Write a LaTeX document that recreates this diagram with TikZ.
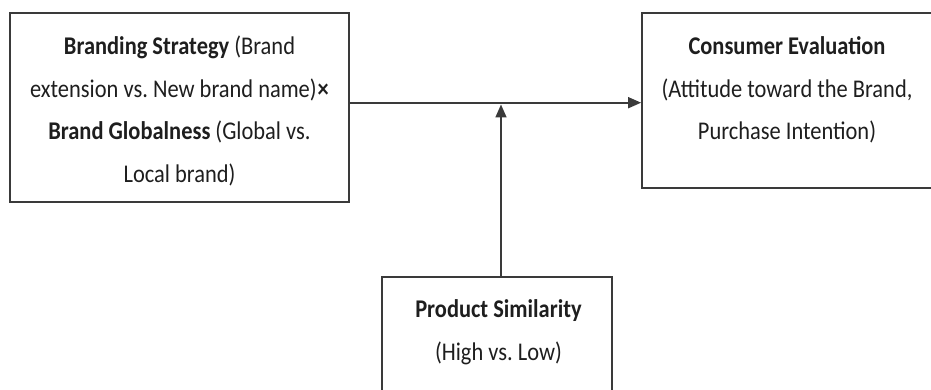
\documentclass[tikz,border=0pt]{standalone}
\usepackage{fontspec}
\setmainfont[FakeStretch=0.88]{Carlito}
\usetikzlibrary{arrows.meta}
\definecolor{ink}{HTML}{1E1E1E}
\definecolor{edge}{HTML}{3A3A3A}
\frenchspacing
\begin{document}
\begin{tikzpicture}[x=1pt,y=-1pt,
  boxst/.style={draw=edge,line width=1.8pt,rectangle,inner sep=0pt},
  txt/.style={text=ink,align=center,font=\fontsize{25.5}{42.5}\selectfont,inner sep=0pt},
  arr/.style={draw=edge,line width=1.7pt,-{Triangle[length=13pt,width=11pt]}}]
\useasboundingbox (0,0) rectangle (931,390);
\node[boxst,minimum width=339pt,minimum height=189pt] (L) at (179.5,107.5) {};
\node[txt] (Lt) at (179.5,111) {\textbf{Branding Strategy} (Brand\\extension vs. New brand name)\kern1pt\textbf{×}\\\textbf{Brand Globalness} (Global vs.\\Local brand)};
\node[boxst,minimum width=290pt,minimum height=175pt] (R) at (787,100.5) {};
\node[txt] (Rt) at (787,90) {\textbf{Consumer Evaluation}\\(Attitude toward the Brand,\\Purchase Intention)};
\node[boxst,minimum width=230pt,minimum height=140pt] (P) at (497,347) {};
\node[txt] (Pt) at (498.5,332) {\textbf{Product Similarity}\\(High vs. Low)};
\coordinate (m) at (501,102.7);
\coordinate (t) at (501,104.5);
\draw[arr] (L.east |- m) -- (R.west |- m);
\draw[arr] (P.north -| t) -- (t);
\end{tikzpicture}
\end{document}
